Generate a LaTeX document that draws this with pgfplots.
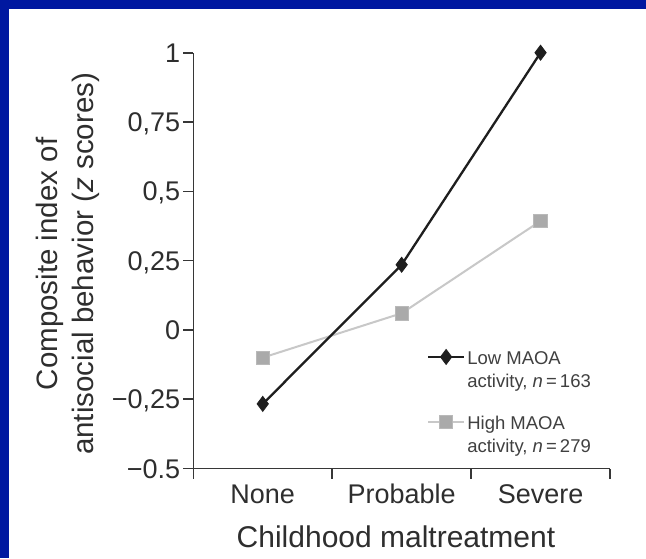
\documentclass[border=0pt]{standalone}
\usepackage{pgfplots}
\pgfplotsset{compat=1.18}
\usepackage{fontspec}
\setmainfont{Liberation Sans}
\definecolor{frameblue}{RGB}{0,24,160}
\definecolor{axisgray}{RGB}{55,55,55}
\definecolor{lowcol}{RGB}{30,30,30}
\definecolor{highline}{RGB}{200,200,200}
\definecolor{highfill}{RGB}{170,170,170}
\definecolor{highdraw}{RGB}{185,185,185}
\begin{document}
\begin{tikzpicture}
\path[use as bounding box] (0pt,0pt) rectangle (646pt,558pt);
\fill[white] (0pt,0pt) rectangle (646pt,558pt);
\fill[frameblue] (0pt,0pt) rectangle (9pt,558pt);
\fill[frameblue] (0pt,549pt) rectangle (646pt,558pt);
\begin{axis}[
  at={(193.3pt,89.5pt)}, anchor=south west,
  scale only axis, width=416.7pt, height=415.8pt,
  xmin=0, xmax=3, ymin=-0.5, ymax=1,
  clip=false,
  axis x line*=bottom, axis y line*=left,
  every outer x axis line/.append style={-},
  every outer y axis line/.append style={-},
  axis line style={-, line width=1.6pt, draw=axisgray},
  tick align=outside, major tick length=10pt,
  tick style={line width=1.6pt, draw=axisgray},
  xtick={0,1,2,3}, xticklabels={},
  extra x ticks={0.5,1.5,2.5},
  extra x tick labels={None,Probable,Severe},
  extra x tick style={major tick length=0pt, tick style={draw=none},
     xticklabel style={anchor=base, yshift=-34.5pt}},
  ytick={-0.5,-0.25,0,0.25,0.5,0.75,1},
  yticklabels={{−0.5},{−0,25},{0},{0,25},{0,5},{0,75},{1}},
  yticklabel style={anchor=base east, inner sep=0pt, xshift=-3pt, yshift=-9.5pt},
  ticklabel style={font=\fontsize{27}{32}\selectfont, text=black!82},
  xlabel={Childhood maltreatment},
  xlabel style={at={(axis description cs:0.4864,-0.1888)}, anchor=base,
     font=\fontsize{30}{36}\selectfont, text=black!82},
  ylabel={Composite index of\\antisocial behavior (\textit{z} scores)},
  ylabel style={at={(axis description cs:-0.3007,0.492)}, anchor=center,
     align=center, font=\fontsize{29.5}{36}\selectfont, text=black!82},
  reverse legend,
  legend cell align=left,
  legend style={at={(axis cs:1.681,-0.069)}, anchor=north west, draw=none, fill=none,
     inner sep=0pt, row sep=23pt, font=\fontsize{18.5}{23}\selectfont, text=black!75,
     cells={align=left}},
  legend image code/.code={\draw[mark repeat=2,mark phase=2,#1] plot coordinates {(0pt,0pt) (18pt,0pt) (36pt,0pt)};},
  legend image post style={yshift=13pt},
]
\addplot[highline, line width=2pt, mark=square*, mark size=6.7pt,
   mark options={fill=highfill, draw=highdraw, line width=0.8pt}]
  coordinates {(0.5,-0.10) (1.5,0.06) (2.5,0.393)};
\addlegendentry{High MAOA\\activity, \textit{n}\,=\,279}
\addplot[lowcol, line width=2.3pt, mark=diamond*, mark size=7.5pt,
   mark options={fill=lowcol, draw=lowcol, line width=0.8pt}]
  coordinates {(0.5,-0.267) (1.5,0.235) (2.5,1.0)};
\addlegendentry{Low MAOA\\activity, \textit{n}\,=\,163}
\end{axis}
\end{tikzpicture}
\end{document}
